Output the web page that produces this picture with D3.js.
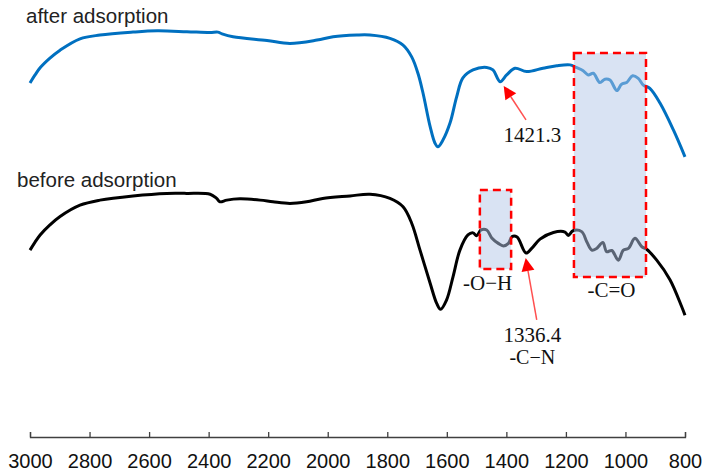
<!DOCTYPE html>
<html>
<head>
    <meta charset="utf-8">
    <title>FTIR</title>
    <style>
        body { margin: 0; background: #fff; }
    </style>
</head>
<body>
    <svg id="ftir_chart"></svg>
</body>
<script src="https://d3js.org/d3.v7.min.js"></script>
<script>

    // wavenumbers (cm-1) and transmittance
    const afterWn = [3000, 2983, 2966, 2933, 2899, 2832, 2765, 2654, 2573, 2473, 2395, 2369, 2355, 2318, 2204, 2127,
        2036, 1982, 1902, 1858, 1791, 1747, 1718, 1697, 1680, 1656, 1640, 1630, 1613, 1589, 1567, 1546, 1512, 1466,
        1445, 1421, 1399, 1371, 1332, 1277, 1231, 1186, 1166, 1142, 1125, 1108, 1086, 1069, 1052, 1029, 1013, 996,
        976, 957, 940, 918, 884, 839, 800];
    const afterT = [84.3, 86.2, 87.9, 90.2, 92.1, 94.8, 95.7, 96.4, 96.7, 96.5, 96.3, 96.4, 96.0, 95.3, 94.4, 93.7,
        94.5, 95.3, 95.7, 95.7, 94.9, 93.3, 90.5, 86.6, 81.9, 73.9, 70.0, 69.1, 70.7, 74.8, 81.0, 85.5, 87.4, 88.0,
        87.4, 84.6, 86.2, 87.8, 87.0, 87.8, 88.4, 88.6, 88.0, 87.2, 86.2, 86.6, 84.4, 85.2, 85.0, 82.5, 84.0, 84.4,
        86.0, 85.4, 83.8, 83.0, 79.5, 73.1, 66.7];

    const beforeWn = [3000, 2983, 2966, 2933, 2899, 2832, 2765, 2654, 2541, 2474, 2395, 2373, 2362, 2339, 2295, 2227,
        2184, 2127, 2071, 2017, 1925, 1858, 1791, 1747, 1718, 1690, 1656, 1634, 1621, 1601, 1579, 1556, 1529, 1512,
        1500, 1485, 1466, 1449, 1427, 1410, 1393, 1381, 1364, 1334, 1315, 1287, 1242, 1203, 1192, 1176, 1147, 1130,
        1113, 1097, 1076, 1063, 1046, 1024, 1007, 990, 968, 945, 929, 895, 850, 811, 800];
    const beforeT = [44.5, 46.4, 48.1, 50.5, 52.5, 55.2, 56.4, 57.4, 58.0, 58.0, 57.8, 56.8, 56.0, 56.4, 56.7, 56.4,
        56.0, 55.6, 56.0, 56.8, 57.4, 57.8, 56.8, 54.8, 50.9, 44.5, 36.6, 31.8, 30.4, 32.6, 38.2, 44.5, 48.1, 48.6,
        47.9, 49.3, 49.3, 47.4, 46.1, 45.5, 46.1, 47.7, 47.6, 43.8, 44.9, 47.1, 48.7, 48.8, 48.0, 49.1, 48.9, 46.5,
        44.5, 44.9, 46.3, 44.1, 44.4, 42.1, 44.5, 44.9, 47.3, 45.3, 44.7, 42.1, 37.4, 31.0, 29.0];

    const xTickValues = [3000, 2800, 2600, 2400, 2200, 2000, 1800, 1600, 1400, 1200, 1000, 800];

    // highlighted regions: [wn from, wn to, T top, T bottom]
    const boxes = [[1489, 1384, 58.8, 40.0], [1173, 931, 91.4, 38.1]];
    const boxLabels = ["-O\u2212H", "-C=O"];
    const boxLabelPos = [[1463, 35.0], [1047, 33.3]];

    // arrows: tail -> tip
    const arrowTails = [[1334, 75.5], [1298, 27.9]];
    const arrowTips = [[1409, 83.6], [1335, 42.6]];
    const peakLabels = ["1421.3", "1336.4", "-C\u2212N"];
    const peakLabelPos = [[1313, 70.2], [1313, 22.6], [1313, 17.3]];

    const W = 704, H = 472;
    const svg = d3.select("#ftir_chart").attr("width", W).attr("height", H);

    const x = d3.scaleLinear().domain([3000, 800]).range([30, 685]);
    const y = d3.scaleLinear().domain([0, 100]).range([437, 17]);

    const line = d3.line()
        .x(d => x(d[0]))
        .y(d => y(d[1]))
        .curve(d3.curveCatmullRom.alpha(0.5));

    svg.append("path")
        .datum(d3.zip(afterWn, afterT))
        .attr("d", line)
        .attr("fill", "none")
        .attr("stroke", "#0070c0")
        .attr("stroke-width", 3)
        .attr("stroke-linejoin", "round");

    svg.append("path")
        .datum(d3.zip(beforeWn, beforeT))
        .attr("d", line)
        .attr("fill", "none")
        .attr("stroke", "#000")
        .attr("stroke-width", 3)
        .attr("stroke-linejoin", "round");

    // shaded boxes
    const gBox = svg.append("g");
    gBox.selectAll("rect.fill")
        .data(boxes)
        .join("rect")
        .attr("class", "fill")
        .attr("x", d => x(d[0]))
        .attr("y", d => y(d[2]))
        .attr("width", d => x(d[1]) - x(d[0]))
        .attr("height", d => y(d[3]) - y(d[2]))
        .attr("fill", "#b4c7e7")
        .attr("fill-opacity", 0.5);
    gBox.selectAll("rect.edge")
        .data(boxes)
        .join("rect")
        .attr("class", "edge")
        .attr("x", d => x(d[0]))
        .attr("y", d => y(d[2]))
        .attr("width", d => x(d[1]) - x(d[0]))
        .attr("height", d => y(d[3]) - y(d[2]))
        .attr("fill", "none")
        .attr("stroke", "#ff0000")
        .attr("stroke-width", 2.5)
        .attr("stroke-dasharray", "8,5");

    svg.selectAll("text.boxlab")
        .data(boxLabels)
        .join("text")
        .attr("class", "boxlab")
        .attr("x", (d, i) => x(boxLabelPos[i][0]))
        .attr("y", (d, i) => y(boxLabelPos[i][1]))
        .attr("text-anchor", "middle")
        .attr("font-family", "'Liberation Serif', 'Times New Roman', serif")
        .attr("font-size", 21)
        .attr("fill", "#111")
        .text(d => d);

    // arrows
    arrowTails.forEach((t, i) => {
        const x0 = x(t[0]), y0 = y(t[1]);
        const x1 = x(arrowTips[i][0]), y1 = y(arrowTips[i][1]);
        const ang = Math.atan2(y1 - y0, x1 - x0);
        const len = 13, half = 6.5;
        const bx = x1 - len * Math.cos(ang), by = y1 - len * Math.sin(ang);
        svg.append("line")
            .attr("x1", x0).attr("y1", y0)
            .attr("x2", bx).attr("y2", by)
            .attr("stroke", "#ff5050")
            .attr("stroke-width", 1.5);
        svg.append("polygon")
            .attr("points", [
                [x1, y1],
                [bx + half * Math.sin(ang), by - half * Math.cos(ang)],
                [bx - half * Math.sin(ang), by + half * Math.cos(ang)]
            ].map(p => p.join(",")).join(" "))
            .attr("fill", "#ff0000");
    });

    svg.selectAll("text.peaklab")
        .data(peakLabels)
        .join("text")
        .attr("class", "peaklab")
        .attr("x", (d, i) => x(peakLabelPos[i][0]))
        .attr("y", (d, i) => y(peakLabelPos[i][1]))
        .attr("text-anchor", "middle")
        .attr("font-family", "'Liberation Serif', 'Times New Roman', serif")
        .attr("font-size", (d, i) => i == 2 ? 20 : 21)
        .attr("fill", "#111")
        .text(d => d);

    // series names
    svg.append("text")
        .attr("x", 26).attr("y", 23)
        .attr("font-family", "'Liberation Sans', Arial, sans-serif")
        .attr("font-size", 20.5)
        .attr("fill", "#222")
        .text("after adsorption");
    svg.append("text")
        .attr("x", 17).attr("y", 187)
        .attr("font-family", "'Liberation Sans', Arial, sans-serif")
        .attr("font-size", 20.5)
        .attr("fill", "#222")
        .text("before adsorption");

    // x axis, ticks pointing up
    const gx = svg.append("g").attr("transform", "translate(0,437)");
    gx.call(d3.axisBottom(x).tickValues(xTickValues).tickSize(-5).tickSizeOuter(-5).tickFormat(d3.format("d")));
    gx.select(".domain").attr("stroke", "#404040").attr("stroke-width", 1.3);
    gx.selectAll(".tick line").attr("stroke", "#404040").attr("stroke-width", 1.3);
    gx.selectAll(".tick text")
        .attr("y", 31)
        .attr("dy", 0)
        .attr("font-family", "'Liberation Sans', Arial, sans-serif")
        .attr("font-size", 20)
        .attr("fill", "#111");

</script>
</html>
